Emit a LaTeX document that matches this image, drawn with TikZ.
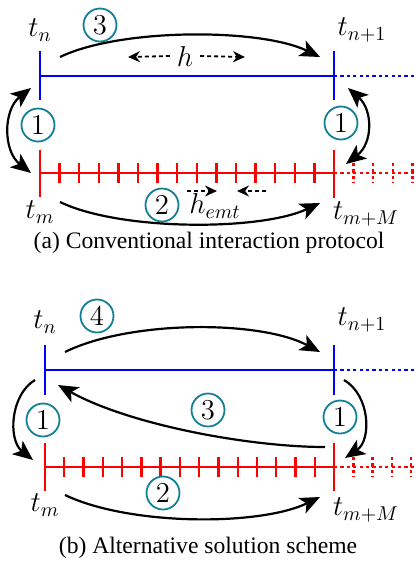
\documentclass[tikz,border=0pt]{standalone}
\usepackage{fontspec}
\setmainfont{Liberation Serif}
\usepackage{tikz}
\usetikzlibrary{arrows.meta, calc}
\usepackage{amsmath, amssymb}
\definecolor{circteal}{RGB}{20,128,152}

\begin{document}
\begin{tikzpicture}[x=0.5pt,y=-0.5pt,every node/.style={font=\Large},
    numc/.style={circle,draw=circteal,line width=0.9pt,inner sep=0pt,minimum size=16.5pt},
    bigarrow/.style={line width=1.1pt,-{Stealth[length=10pt,width=8.5pt,inset=2.5pt]}},
    bothways/.style={line width=1.1pt,{Stealth[length=10pt,width=8.5pt,inset=2.5pt]}-{Stealth[length=10pt,width=8.5pt,inset=2.5pt]}},
    smallarrow/.style={line width=0.9pt,dash pattern=on 2pt off 1.5pt,-{Stealth[length=6pt,width=5.5pt]}},
    dots/.style={dash pattern=on 1.6pt off 1.6pt},
    coarse/.style={blue,line width=1.2pt},
    fine/.style={red,line width=1.2pt}]
  \useasboundingbox (0,0) rectangle (415,564);

  % (a) conventional protocol
  \draw[coarse] (40,76) -- (334,76);
  \draw[coarse,dots] (334,76) -- (415,76);
  \draw[coarse] (40,51) -- (40,100);
  \draw[coarse] (334,51) -- (334,100);
  \draw[fine] (40,173) -- (334,173);
  \draw[fine,dots] (334,173) -- (415,173);
  \draw[fine] (40,150) -- (40,197);
  \draw[fine] (334,150) -- (334,198);
  \foreach \i in {1,...,14}
    \draw[fine] ({40+19.6*\i},163) -- ({40+19.6*\i},183);
  \foreach \i in {1,...,4}
    \draw[fine,dots] ({334+19.6*\i},163) -- ({334+19.6*\i},183);

  \node (tna) at (40,30) {$t_n$};
  \node (tn1a) at (362,30) {$t_{n+1}$};
  \node (tma) at (40,212) {$t_m$};
  \node (tmMa) at (366,214) {$t_{m+M}$};
  \node[numc] (sync1a) at (38,125) {$1$};
  \node[numc] (sync2a) at (341,123) {$1$};
  \node[numc] (emt) at (162,205) {$2$};
  \node[numc] (tse) at (100,25) {$3$};
  \node (h) at (185,56) {$h$};
  \node (hemt) at (215,206) {$h_{emt}$};

  \draw[smallarrow] (h.west) -- (128,57);
  \draw[smallarrow] (h.east) -- (245,57);
  \draw[smallarrow] (187,191) -- (217,191);
  \draw[smallarrow] (266,191) -- (237,191);

  \draw[bigarrow] (60,57) .. controls (120,28) and (260,28) .. (320,57);
  \draw[bigarrow] (60,202) .. controls (120,231) and (260,231) .. (320,203);
  \draw[bothways] (31,88) .. controls (3,110) and (3,151) .. (31,173);
  \draw[bothways] (348,88) .. controls (373,110) and (373,143) .. (346,164);

  \node (capa) at (209,243) {\fontsize{11.8}{14}\selectfont (a) Conventional interaction protocol};

  % (b) alternative scheme
  \draw[coarse] (45,370) -- (334,370);
  \draw[coarse,dots] (334,370) -- (415,370);
  \draw[coarse] (45,345) -- (45,395);
  \draw[coarse] (334,345) -- (334,395);
  \draw[fine] (45,467) -- (334,467);
  \draw[fine,dots] (334,467) -- (415,467);
  \draw[fine] (45,443) -- (45,491);
  \draw[fine] (334,443) -- (334,491);
  \foreach \i in {1,...,14}
    \draw[fine] ({45+19.27*\i},457) -- ({45+19.27*\i},477);
  \foreach \i in {1,...,4}
    \draw[fine,dots] ({334+19.3*\i},457) -- ({334+19.3*\i},477);

  \node (tnb) at (45,322) {$t_n$};
  \node (tn1b) at (362,320) {$t_{n+1}$};
  \node (tmb) at (45,505) {$t_m$};
  \node (tmMb) at (366,510) {$t_{m+M}$};
  \node[numc] (sync1b) at (43,420) {$1$};
  \node[numc] (sync2b) at (340,417) {$1$};
  \node[numc] (emtb) at (163,493) {$2$};
  \node[numc] (back) at (208,410) {$3$};
  \node[numc] (tseb) at (97,316) {$4$};

  \draw[bigarrow] (65,352) .. controls (130,320) and (260,320) .. (320,352);
  \draw[bigarrow] (65,495) .. controls (130,526) and (260,526) .. (320,497);
  \draw[bigarrow] (325,447) .. controls (250,447) and (130,425) .. (58,385);
  \draw[bigarrow] (35,380) .. controls (10,395) and (8,440) .. (33,460);
  \draw[bigarrow] (344,380) .. controls (370,395) and (372,440) .. (345,458);

  \node (capb) at (208,548) {\fontsize{11.8}{14}\selectfont (b) Alternative solution scheme};
\end{tikzpicture}
\end{document}
